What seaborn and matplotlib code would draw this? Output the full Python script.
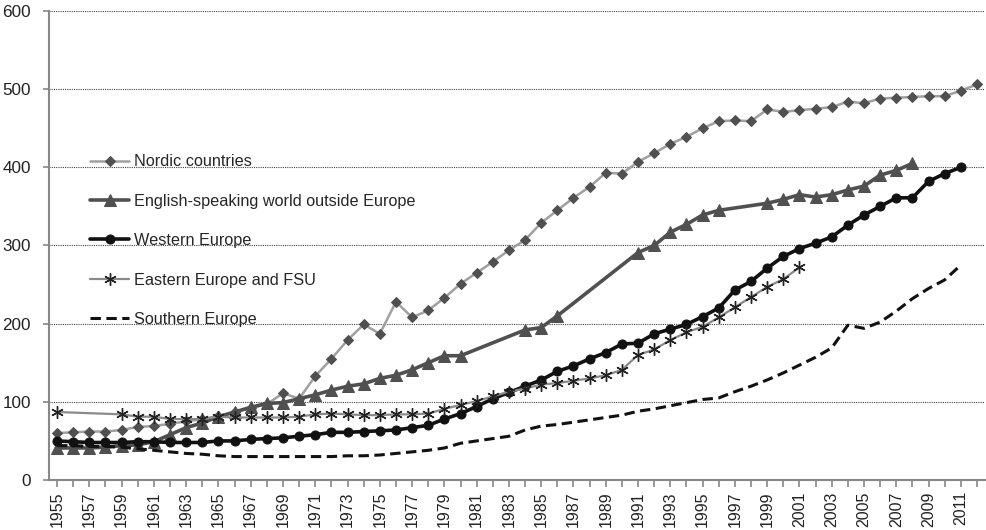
import matplotlib
matplotlib.use("Agg")
import matplotlib.pyplot as plt
import numpy as np
import pandas as pd
import seaborn as sns

# ------------------------------------------------------------------ #
# Data
# ------------------------------------------------------------------ #
years = list(range(1955, 2013))

nordic_years = list(range(1955, 2013))
nordic = [60, 61, 62, 62, 64, 68, 69, 72, 75, 78,
          82, 87, 92, 97, 111, 104, 133, 155, 179, 199,
          187, 228, 208, 217, 233, 251, 265, 279, 294, 307,
          329, 345, 361, 375, 393, 392, 407, 418, 430, 439,
          450, 459, 460, 459, 474, 471, 473, 475, 477, 484,
          482, 488, 489, 490, 491, 491, 498, 506]

english_years = (list(range(1955, 1981)) + list(range(1984, 1987))
                 + list(range(1991, 1997)) + list(range(1999, 2009)))
english = [41, 41, 41, 42, 44, 45, 49, 58, 67, 73,
           81, 87, 93, 98, 99, 104, 109, 115, 120, 123,
           130, 134, 141, 150, 159, 159,
           192, 195, 210,
           291, 300, 317, 327, 339, 345,
           354, 359, 365, 362, 365, 371, 376, 390, 396, 405]

western_years = list(range(1955, 2012))
western = [50, 49, 48, 48, 48, 49, 49, 48, 48, 48,
           50, 50, 52, 53, 54, 56, 58, 61, 61, 62,
           63, 64, 67, 70, 78, 85, 94, 104, 112, 120,
           128, 139, 146, 155, 163, 174, 175, 187, 193, 199,
           209, 220, 243, 254, 271, 286, 296, 303, 311, 326,
           339, 350, 361, 361, 382, 392, 400]

eastern_years = [1955] + list(range(1959, 2002))
eastern = [87,
           84, 81, 81, 78, 78, 78, 81, 80, 80, 80,
           80, 81, 84, 85, 84, 83, 83, 84, 84, 85,
           91, 96, 101, 107, 113, 117, 122, 124, 127, 130,
           134, 141, 160, 167, 179, 189, 196, 208, 221, 234,
           247, 257, 272]

southern_years = list(range(1955, 2012))
southern = [44, 44, 43, 43, 42, 40, 38, 36, 34, 33,
            31, 30, 30, 30, 30, 30, 30, 30, 31, 31,
            32, 34, 36, 38, 41, 47, 50, 53, 56, 64,
            69, 71, 74, 77, 80, 83, 88, 91, 95, 99,
            103, 105, 113, 120, 128, 137, 147, 157, 169, 198,
            194, 202, 216, 232, 245, 256, 275]

y_ticks = [0, 100, 200, 300, 400, 500, 600]

# ------------------------------------------------------------------ #
# Plot
# ------------------------------------------------------------------ #
sns.set_style("white")
plt.rcParams["font.family"] = ["Liberation Sans", "DejaVu Sans"]

fig = plt.figure(figsize=(9.86, 5.30), dpi=100)
ax = fig.add_axes([0.0497, 0.0943, 0.9493, 0.885])

sns.lineplot(x=nordic_years, y=nordic, ax=ax, label="Nordic countries",
             color="#a0a0a0", linewidth=1.8, marker="D", markersize=4.8,
             markerfacecolor="#505050", markeredgecolor="#505050", errorbar=None)
sns.lineplot(x=english_years, y=english, ax=ax,
             label="English-speaking world outside Europe",
             color="#505050", linewidth=2.6, marker="^", markersize=8,
             markerfacecolor="#505050", markeredgecolor="#505050", errorbar=None)
sns.lineplot(x=western_years, y=western, ax=ax, label="Western Europe",
             color="#111111", linewidth=2.6, marker="o", markersize=6.5,
             markerfacecolor="#111111", markeredgecolor="#111111", errorbar=None)
sns.lineplot(x=eastern_years, y=eastern, ax=ax, label="Eastern Europe and FSU",
             color="#8a8a8a", linewidth=1.6, marker=(6, 2, 0), markersize=9,
             markeredgewidth=1.0, markeredgecolor="#222222", errorbar=None)
sns.lineplot(x=southern_years, y=southern, ax=ax, label="Southern Europe",
             color="#111111", linewidth=2.2, linestyle=(0, (3.4, 1.8)),
             errorbar=None)

ax.set_xlim(1954.5, 2012.5)
ax.set_ylim(0, 600)
ax.set_yticks(y_ticks)
ax.set_xticks(years)
ax.set_xticklabels([str(y) if (y - 1955) % 2 == 0 else "" for y in years],
                   rotation=90)
ax.set_xlabel("")
ax.set_ylabel("")

ax.yaxis.grid(True, linestyle=(0, (1, 1)), color="#444444", linewidth=0.8)
ax.xaxis.grid(False)
ax.set_axisbelow(True)

for side in ("top", "right"):
    ax.spines[side].set_visible(False)
for side in ("left", "bottom"):
    ax.spines[side].set_color("#888888")
    ax.spines[side].set_linewidth(1.5)

ax.tick_params(axis="x", direction="out", length=5, width=1.2, color="#888888",
               labelsize=11.5, pad=3, labelcolor="#222222", bottom=True)
ax.tick_params(axis="y", direction="out", length=4, width=1.2, color="#888888",
               labelsize=12.3, pad=9, labelcolor="#222222", left=True)

ax.legend(loc="upper left", bbox_to_anchor=(0.037, 0.708), frameon=False,
          handlelength=2.4, handletextpad=0.3, labelspacing=1.5, fontsize=11.7,
          borderaxespad=0)

fig.savefig("out.png", dpi=100)
